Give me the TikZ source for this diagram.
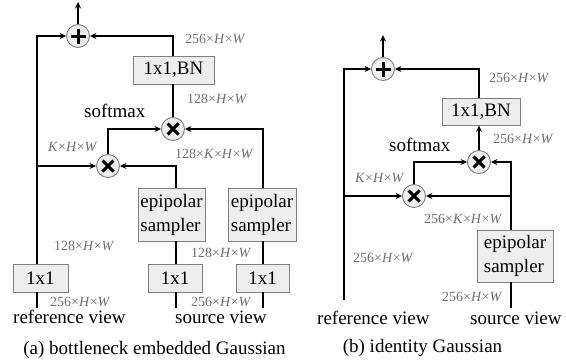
\documentclass[tikz,border=0pt]{standalone}
\usepackage{fontspec}
\setmainfont{Liberation Serif}
\usetikzlibrary{arrows.meta}
\definecolor{boxfill}{HTML}{EEEEEE}
\definecolor{boxdraw}{HTML}{7F7F7F}
\definecolor{lblgray}{HTML}{707070}
\newcommand{\dimHW}{×\textit{H}×\textit{W}}
\begin{document}
\begin{tikzpicture}[x=1pt,y=-1pt,
 wire/.style={line width=2.4pt},
 arr/.style={wire,-{Stealth[length=6.5pt,width=6pt]}},
 sym/.style={line width=3pt},
 opbox/.style={draw=boxdraw,fill=boxfill,line width=0.9pt,inner sep=0pt,font=\fontsize{19}{24}\selectfont,align=left},
 opc/.style={circle,draw=boxdraw,fill=boxfill,line width=0.9pt,minimum size=23pt,inner sep=0pt},
 dim/.style={anchor=west,inner sep=0pt,text=lblgray,font=\fontsize{14}{14}\selectfont},
 txt/.style={anchor=west,inner sep=0pt,font=\fontsize{19}{19}\selectfont},
 captext/.style={inner sep=0pt,font=\fontsize{19}{19}\selectfont}]
\useasboundingbox (0,0) rectangle (566,364);

% ---------- panel (a) ----------
\node[opbox,minimum width=81pt,minimum height=28pt] (bn1) at (173.5,70) {1x1,BN};
\node[opbox,minimum width=67pt,minimum height=53pt] (ep1) at (171.5,214.5) {epipolar\\sampler};
\node[opbox,minimum width=68pt,minimum height=53pt] (ep2) at (262,214.5) {epipolar\\sampler};
\node[opbox,minimum width=55pt,minimum height=28pt] (c1r) at (40.5,278) {1x1};
\node[opbox,minimum width=54pt,minimum height=28pt] (c1s) at (175,278) {1x1};
\node[opbox,minimum width=53pt,minimum height=28pt] (c1t) at (262.5,278) {1x1};
\node[opc] (p1) at (78,36) {};
\node[opc] (t1) at (173,129) {};
\node[opc] (t2) at (108,166) {};
\draw[sym] (p1) ++(-7.5,0) -- ++(15,0) (p1) ++(0,-7.5) -- ++(0,15);
\draw[sym] (t1) ++(-5.5,-5.5) -- ++(11,11) (t1) ++(-5.5,5.5) -- ++(11,-11);
\draw[sym] (t2) ++(-5.5,-5.5) -- ++(11,11) (t2) ++(-5.5,5.5) -- ++(11,-11);

\coordinate (o1) at (78,2);
\coordinate (ra) at (37,308);
\coordinate (sa) at (176,308);
\coordinate (ta) at (263,308);

\draw[arr] (p1.north) -- (o1);
\draw[wire] (ra) -- (ra |- c1r.south);
\draw[arr] (ra |- c1r.north) -- (ra |- p1) -- (p1.west);
\draw[arr] (ra |- t2) -- (t2.west);
\draw[arr] (bn1.north -| t1) -- (t1 |- p1) -- (p1.east);
\draw[wire] (t1.north) -- (bn1.south -| t1);
\draw[arr] (t2.north) -- (t2 |- t1) -- (t1.west);
\draw[wire] (sa) -- (sa |- c1s.south);
\draw[wire] (sa |- c1s.north) -- (sa |- ep1.south);
\draw[arr] (sa |- ep1.north) -- (sa |- t2) -- (t2.east);
\draw[wire] (ta) -- (ta |- c1t.south);
\draw[wire] (ta |- c1t.north) -- (ta |- ep2.south);
\draw[arr] (ta |- ep2.north) -- (ta |- t1) -- (t1.east);

\node[dim] (la1) at (185,39) {256\dimHW};
\node[dim] (la2) at (187,99) {128\dimHW};
\node[txt] (sm1) at (84,111) {softmax};
\node[dim] (la3) at (48,147) {\textit{K}\dimHW};
\node[dim] (la4) at (175,154) {128×\textit{K}\dimHW};
\node[dim] (la5) at (54,246) {128\dimHW};
\node[dim] (la6) at (191,253) {128\dimHW};
\node[dim] (la7) at (50,302) {256\dimHW};
\node[dim] (la8) at (191,302) {256\dimHW};
\node[txt] (rv1) at (13,317) {reference view};
\node[txt] (sv1) at (175,317) {source view};
\node[captext] (capa) at (154.5,350) {(a) bottleneck embedded Gaussian};

% ---------- panel (b) ----------
\node[opbox,minimum width=78pt,minimum height=27pt] (bn2) at (481,111.5) {1x1,BN};
\node[opbox,minimum width=76pt,minimum height=52pt] (ep3) at (515,256) {epipolar\\sampler};
\node[opc] (p2) at (383,69) {};
\node[opc] (t3) at (479,162) {};
\node[opc] (t4) at (414,196) {};
\draw[sym] (p2) ++(-7.5,0) -- ++(15,0) (p2) ++(0,-7.5) -- ++(0,15);
\draw[sym] (t3) ++(-5.5,-5.5) -- ++(11,11) (t3) ++(-5.5,5.5) -- ++(11,-11);
\draw[sym] (t4) ++(-5.5,-5.5) -- ++(11,11) (t4) ++(-5.5,5.5) -- ++(11,-11);

\coordinate (o2) at (383,35);
\coordinate (rb) at (344,300);
\coordinate (sb) at (511,308);

\draw[arr] (p2.north) -- (o2);
\draw[arr] (rb) -- (rb |- p2) -- (p2.west);
\draw[arr] (rb |- t4) -- (t4.west);
\draw[arr] (bn2.north -| t3) -- (t3 |- p2) -- (p2.east);
\draw[arr] (t3.north) -- (bn2.south -| t3);
\draw[arr] (t4.north) -- (t4 |- t3) -- (t3.west);
\draw[wire] (sb) -- (sb |- ep3.south);
\draw[arr] (sb |- ep3.north) -- (sb |- t3) -- (t3.east);
\draw[arr] (sb |- t4) -- (t4.east);

\node[dim] (lb1) at (489,78) {256\dimHW};
\node[dim] (lb2) at (493,139) {256\dimHW};
\node[txt] (sm2) at (389,145) {softmax};
\node[dim] (lb3) at (355,178) {\textit{K}\dimHW};
\node[dim] (lb4) at (424,219) {256×\textit{K}\dimHW};
\node[dim] (lb5) at (353,258) {256\dimHW};
\node[dim] (lb6) at (442,297) {256\dimHW};
\node[txt] (rv2) at (317,318) {reference view};
\node[txt] (sv2) at (470,318) {source view};
\node[captext] (capb) at (422.5,348) {(b) identity Gaussian};
\end{tikzpicture}
\end{document}
